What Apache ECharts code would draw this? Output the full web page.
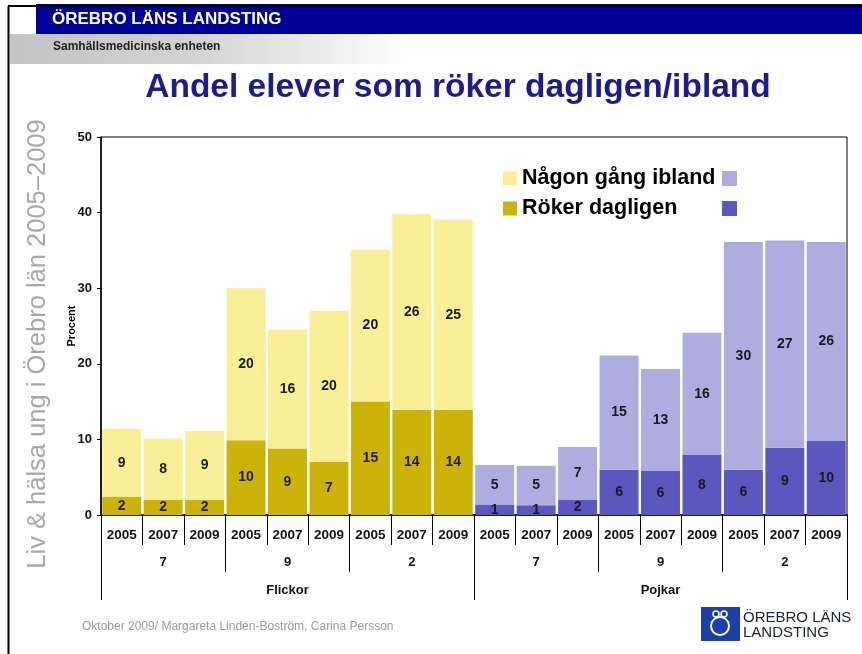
<!DOCTYPE html>
<html>
<head>
<meta charset="utf-8">
<script src="https://cdn.jsdelivr.net/npm/echarts@6/dist/echarts.min.js"></script>
<style>
html,body{margin:0;padding:0;background:#fff;}
#chart{width:862px;height:654px;}
</style>
</head>
<body>
<div id="chart"></div>
<script>
// ---- data ----
var years = ['2005','2007','2009','2005','2007','2009','2005','2007','2009',
             '2005','2007','2009','2005','2007','2009','2005','2007','2009'];
var grades = ['7','9','2','7','9','2'];
var genders = ['Flickor','Pojkar'];
var girlsDaily = [2.4, 2.0, 2.0, 9.9, 8.8, 7.0, 15.0, 13.9, 13.9];
var girlsOccasional = [9.0, 8.1, 9.1, 20.1, 15.7, 20.0, 20.1, 25.9, 25.2];
var boysDaily = [1.4, 1.3, 2.0, 6.0, 5.9, 8.0, 6.0, 8.9, 9.8];
var boysOccasional = [5.2, 5.2, 7.0, 15.1, 13.4, 16.1, 30.1, 27.4, 26.3];
var yTicks = [0, 10, 20, 30, 40, 50];

var nul = function(n){ var a=[]; for(var i=0;i<n;i++) a.push(null); return a; };
var gD = girlsDaily.concat(nul(9));
var gO = girlsOccasional.concat(nul(9));
var bD = nul(9).concat(boysDaily);
var bO = nul(9).concat(boysOccasional);

var font = 'Liberation Sans, Arial, sans-serif';
var labelCfg = {
  show: true, position: 'inside', fontSize: 14, fontWeight: 'bold', color: '#1a1a1a',
  fontFamily: font,
  formatter: function(p){ return Math.round(p.value); }
};

var chart = echarts.init(document.getElementById('chart'));
chart.setOption({
  animation: false,
  backgroundColor: '#fff',
  textStyle: { fontFamily: font },
  grid: { left: 101, right: 15, top: 137, bottom: 139, show: true, borderColor: '#000', borderWidth: 1 },
  legend: [
    { data: ['Någon gång ibland', 'Röker dagligen'], orient: 'vertical', left: 503, top: 167, padding: 0,
      icon: 'rect', itemWidth: 14, itemHeight: 14, selectedMode: false, itemGap: 7,
      textStyle: { fontSize: 21.5, fontWeight: 'bold', color: '#000', fontFamily: font, lineHeight: 23 } },
    { data: ['Någon gång ibland (Pojkar)', 'Röker dagligen (Pojkar)'], orient: 'vertical', left: 722, top: 171, padding: 0,
      icon: 'rect', itemWidth: 15, itemHeight: 15, itemGap: 15, selectedMode: false,
      formatter: function(){ return ''; },
      textStyle: { fontSize: 21 } }
  ],
  xAxis: [
    { type: 'category', data: years, gridIndex: 0, position: 'bottom',
      axisLine: { show: true, lineStyle: { color: '#000', width: 1.5 } },
      axisTick: { show: true, length: 30, lineStyle: { color: '#000' } },
      axisLabel: { margin: 13, fontSize: 13.5, fontWeight: 'bold', color: '#111', interval: 0 } },
    { type: 'category', data: grades, gridIndex: 0, position: 'bottom',
      axisLine: { show: false },
      axisTick: { show: true, length: 57, lineStyle: { color: '#000' } },
      axisLabel: { margin: 41, fontSize: 13, fontWeight: 'bold', color: '#111', interval: 0 } },
    { type: 'category', data: genders, gridIndex: 0, position: 'bottom',
      axisLine: { show: false },
      axisTick: { show: true, length: 85, lineStyle: { color: '#000' } },
      axisLabel: { margin: 69, fontSize: 13, fontWeight: 'bold', color: '#111', interval: 0 } }
  ],
  yAxis: {
    type: 'value', min: yTicks[0], max: yTicks[yTicks.length-1], interval: 10,
    name: 'Procent', nameLocation: 'middle', nameRotate: 90, nameGap: 24, nameMoveOverlap: false,
    nameTextStyle: { fontSize: 11, fontWeight: 'bold', color: '#000' },
    axisLine: { show: true, lineStyle: { color: '#000', width: 1.5 } },
    axisTick: { show: true, length: 4, lineStyle: { color: '#000' } },
    splitLine: { show: false },
    axisLabel: { margin: 9, fontSize: 13, fontWeight: 'bold', color: '#111' }
  },
  series: [
    { name: 'Röker dagligen', type: 'bar', stack: 'total', data: gD, barCategoryGap: '6%',
      itemStyle: { color: '#CCB309' }, label: labelCfg },
    { name: 'Någon gång ibland', type: 'bar', stack: 'total', data: gO, barCategoryGap: '6%',
      itemStyle: { color: '#FAEE96' }, label: labelCfg },
    { name: 'Röker dagligen (Pojkar)', type: 'bar', stack: 'total', data: bD, barCategoryGap: '6%',
      itemStyle: { color: '#5A57BF' }, label: labelCfg },
    { name: 'Någon gång ibland (Pojkar)', type: 'bar', stack: 'total', data: bO, barCategoryGap: '6%',
      itemStyle: { color: '#AEADE0' }, label: labelCfg }
  ],
  graphic: [
    { type: 'rect', left: 36, top: 4, shape: { width: 826, height: 30 }, style: { fill: '#000099' }, silent: true },
    { type: 'line', shape: { x1: 8, y1: 6, x2: 862, y2: 6 }, style: { stroke: '#000', lineWidth: 2 }, silent: true },
    { type: 'line', shape: { x1: 8.5, y1: 6, x2: 8.5, y2: 654 }, style: { stroke: '#000', lineWidth: 2 }, silent: true },
    { type: 'rect', left: 10, top: 34, shape: { width: 400, height: 30 }, silent: true,
      style: { fill: new echarts.graphic.LinearGradient(0, 0, 1, 0, [
        { offset: 0, color: '#c4c4c4' }, { offset: 0.45, color: '#d2d2d2' }, { offset: 1, color: '#ffffff' }]) } },
    { type: 'text', left: 52, top: 11, silent: true,
      style: { text: 'ÖREBRO LÄNS LANDSTING', fill: '#fff', font: 'bold 17px ' + font } },
    { type: 'text', left: 53, top: 41, silent: true,
      style: { text: 'Samhällsmedicinska enheten', fill: '#222', font: 'bold 12px ' + font } },
    { type: 'text', x: 458, y: 88, silent: true,
      style: { text: 'Andel elever som röker dagligen/ibland', fill: '#1c1c8c', font: 'bold 33.5px ' + font,
        textAlign: 'center', textVerticalAlign: 'middle' } },
    { type: 'text', x: 38, y: 344, rotation: Math.PI / 2, silent: true,
      style: { text: 'Liv & hälsa ung i Örebro län 2005–2009', fill: '#a8a8a8', font: '25.5px ' + font,
        textAlign: 'center', textVerticalAlign: 'middle' } },
    { type: 'text', left: 82, top: 621, silent: true,
      style: { text: 'Oktober 2009/ Margareta Lindén-Boström, Carina Persson', fill: '#9a9a9a', font: '12px ' + font } },
    { type: 'rect', left: 701, top: 607, shape: { width: 39, height: 34 }, style: { fill: '#1f3fa8' }, silent: true },
    { type: 'circle', shape: { cx: 720, cy: 626, r: 9 }, style: { fill: 'none', stroke: '#fff', lineWidth: 2 }, silent: true },
    { type: 'circle', shape: { cx: 716, cy: 614, r: 3 }, style: { fill: 'none', stroke: '#fff', lineWidth: 1.5 }, silent: true },
    { type: 'circle', shape: { cx: 724, cy: 614, r: 3 }, style: { fill: 'none', stroke: '#fff', lineWidth: 1.5 }, silent: true },
    { type: 'text', left: 743, top: 610, silent: true,
      style: { text: 'ÖREBRO LÄNS', fill: '#1b1b4f', font: '15px ' + font } },
    { type: 'text', left: 743, top: 625, silent: true,
      style: { text: 'LANDSTING', fill: '#1b1b4f', font: '15px ' + font } }
  ]
});
</script>
</body>
</html>
